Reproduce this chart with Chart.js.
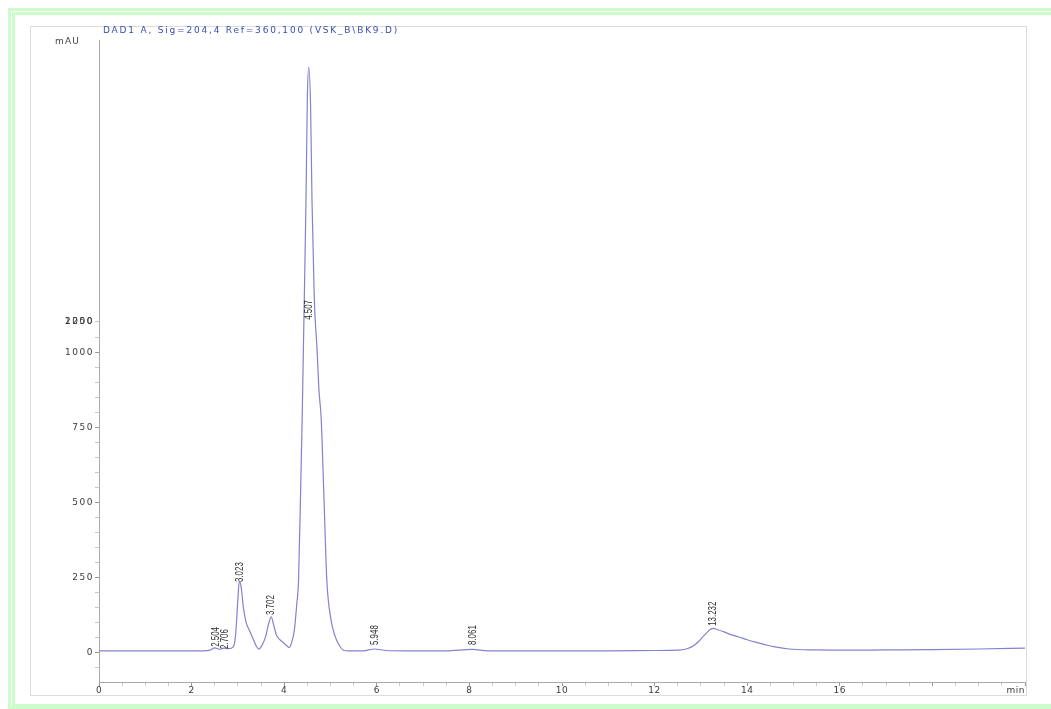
<!DOCTYPE html>
<html>
<head>
<meta charset="utf-8">
<script src="https://cdn.jsdelivr.net/npm/chart.js@4.4.0/dist/chart.umd.min.js"></script>
<style>
  html, body { margin: 0; padding: 0; background: #fff; }
  #wrap { position: relative; width: 1051px; height: 709px; overflow: hidden; }
  .green { position: absolute; border: 3px solid #ccfccc; box-sizing: border-box; }
  #outer { left: 8px; top: 8px; width: 1060px; height: 702px; }
  #inner { left: 12px; top: 12px; width: 1060px; height: 695px; }
  #frame { position: absolute; left: 30px; top: 26px; width: 997px; height: 670px; border: 1px solid #dcdcdc; box-sizing: border-box; }
  canvas { position: absolute; left: 0; top: 0; }
  .txt { position: absolute; font-family: 'DejaVu Sans', sans-serif; font-size: 9px; white-space: nowrap; }
  #title { left: 103px; top: 25px; color: #3a4db5; letter-spacing: 1.8px; }
  #unit { left: 55px; top: 36px; color: #444; letter-spacing: 1.2px; }
</style>
</head>
<body>
<div id="wrap">
  <div class="green" id="outer"></div>
  <div class="green" id="inner"></div>
  <div id="frame"></div>
  <canvas id="chrom" width="1051" height="709"></canvas>
  <div class="txt" id="title">DAD1 A, Sig=204,4 Ref=360,100 (VSK_B\BK9.D)</div>
  <div class="txt" id="unit">mAU</div>
</div>
<script>
// retention time (min) and detector signal (mAU)
const times = [0, 1, 2, 2.25, 2.4, 2.5, 2.6, 2.7, 2.8, 2.9,
    2.95, 3.0, 3.03, 3.07, 3.12, 3.18, 3.25, 3.32, 3.4, 3.45,
    3.52, 3.6, 3.66, 3.72, 3.77, 3.83, 3.9, 3.99, 4.07, 4.11,
    4.16, 4.22, 4.27, 4.31, 4.36, 4.39, 4.43, 4.47, 4.5, 4.53,
    4.57, 4.6, 4.65, 4.71, 4.75, 4.8, 4.86, 4.92, 5.01, 5.1,
    5.18, 5.29, 5.4, 5.7, 5.95, 6.2, 6.6, 7.5, 8.06, 8.4,
    9, 10, 11, 12, 12.5, 12.7, 12.85, 12.95, 13.05, 13.12,
    13.2, 13.27, 13.35, 13.5, 13.65, 13.8, 14.0, 14.2, 14.4, 14.6,
    14.9, 15.5, 16, 17, 18, 19, 20];
const signal = [7, 7, 7, 7, 9, 17, 12, 16, 14, 20,
    60, 180, 240, 220, 150, 100, 75, 50, 22, 13,
    25, 55, 95, 120, 95, 60, 45, 33, 22, 18,
    35, 77, 160, 244, 578, 800, 1150, 1500, 1850, 1953,
    1820, 1510, 1180, 1010, 877, 778, 511, 244, 111, 55,
    28, 8, 7, 7, 13, 8, 7, 7, 12, 7,
    7, 7, 7, 8, 9, 14, 25, 38, 55, 66,
    78, 82, 78, 70, 61, 54, 44, 35, 27, 20,
    13, 10, 9, 10, 11, 13, 16];

// peak annotations
const peakTimes = [2.504, 2.706, 3.023, 3.702, 4.507, 5.948, 8.061, 13.232];
const peakNames = ['2.504', '2.706', '3.023', '3.702', '4.507', '5.948', '8.061', '13.232'];
const peakLabelAt = [17, 10, 233, 123, 1107, 23, 23, 87];

// axis labels
const xLabelValues = [0, 2, 4, 6, 8, 10, 12, 14, 16];
const xUnitLabel = 'min';
const yLabelValues = [0, 250, 500, 750, 1000];
const yOverlapLabels = ['2000', '1250'];
const yOverlapValue = 1105;

const xTicks = [];
for (let v = 0; v <= 20; v += 0.5) xTicks.push({ value: v });
const yTicks = [];
for (let v = -50; v <= 1050; v += 50) yTicks.push({ value: v });
yTicks.push({ value: yOverlapValue });

const labelPlugin = {
    id: 'chromLabels',
    afterDraw(chart) {
        const { ctx, scales: { x, y } } = chart;
        ctx.save();
        ctx.fillStyle = '#3a3a3a';
        ctx.font = '9px "DejaVu Sans", sans-serif';

        // y labels
        ctx.letterSpacing = '1.5px';
        ctx.textAlign = 'right';
        ctx.textBaseline = 'middle';
        yLabelValues.forEach(v => ctx.fillText(String(v), 94, y.getPixelForValue(v)));
        yOverlapLabels.forEach(s => ctx.fillText(s, 94, y.getPixelForValue(yOverlapValue)));

        // x labels
        ctx.letterSpacing = '0.5px';
        ctx.textAlign = 'center';
        ctx.textBaseline = 'top';
        xLabelValues.forEach(v => ctx.fillText(String(v), x.getPixelForValue(v), x.top + 4));
        ctx.textAlign = 'right';
        ctx.fillText(xUnitLabel, x.right, x.top + 4);

        // peak retention times
        ctx.letterSpacing = '0px';
        ctx.fillStyle = '#2a2a2a';
        ctx.font = '11px "Liberation Sans", Arial, sans-serif';
        peakTimes.forEach((t, i) => {
            ctx.save();
            ctx.translate(x.getPixelForValue(t) + 1, y.getPixelForValue(peakLabelAt[i]) - 1);
            ctx.rotate(-Math.PI / 2);
            ctx.scale(0.72, 1);
            ctx.textAlign = 'left';
            ctx.textBaseline = 'middle';
            ctx.fillText(peakNames[i], 0, 0);
            ctx.restore();
        });
        ctx.restore();
    }
};

const ctx = document.getElementById('chrom').getContext('2d');
new Chart(ctx, {
    type: 'line',
    data: {
        datasets: [{
            data: times.map((t, i) => ({ x: t, y: signal[i] })),
            borderColor: '#8282cf',
            borderWidth: 1.2,
            pointRadius: 0,
            fill: false,
            cubicInterpolationMode: 'monotone'
        }]
    },
    options: {
        responsive: false,
        animation: false,
        layout: { padding: { left: 0, right: 26, top: 40, bottom: 0 } },
        plugins: {
            legend: { display: false },
            tooltip: { enabled: false }
        },
        scales: {
            x: {
                type: 'linear',
                min: 0,
                max: 20,
                afterBuildTicks: (scale) => { scale.ticks = xTicks.slice(); },
                afterFit: (scale) => { scale.height = 27; },
                ticks: { display: false },
                grid: {
                    drawOnChartArea: false,
                    drawTicks: true,
                    tickLength: 4,
                    tickColor: (c) => (c.tick && c.tick.value % 2 === 0) ? '#999' : '#c8c8c8'
                },
                border: { display: true, color: '#aaa' }
            },
            y: {
                min: -97,
                max: 2043,
                afterBuildTicks: (scale) => { scale.ticks = yTicks.slice(); },
                afterFit: (scale) => { scale.width = 99; },
                ticks: { display: false },
                grid: {
                    drawOnChartArea: false,
                    drawTicks: true,
                    tickLength: 4,
                    tickColor: (c) => (c.tick && c.tick.value % 250 === 0) ? '#999' : '#c8c8c8'
                },
                border: { display: true, color: '#aaa' }
            }
        }
    },
    plugins: [labelPlugin]
});
</script>
</body>
</html>
